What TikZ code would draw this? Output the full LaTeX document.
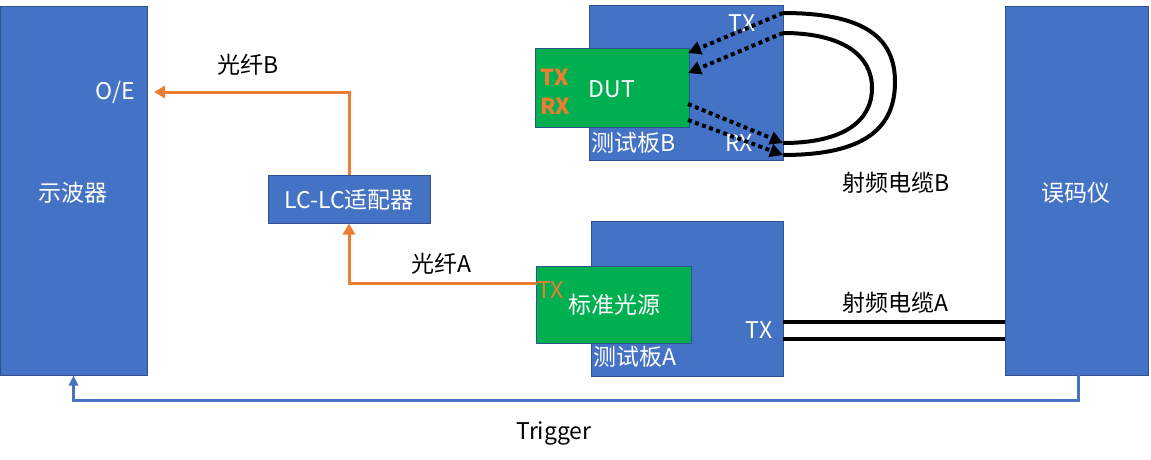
\documentclass[tikz,border=0pt]{standalone}
\usepackage{fontspec}
\setmainfont{Noto Sans CJK SC}
\usetikzlibrary{arrows.meta}
\definecolor{boxblue}{HTML}{4472C4}
\definecolor{boxedge}{HTML}{2F528F}
\definecolor{boxgreen}{HTML}{00B050}
\definecolor{fiber}{HTML}{ED7D31}
\tikzset{
  bluebox/.style={draw=boxedge,line width=1pt,fill=boxblue,inner sep=0pt,text=white},
  greenbox/.style={draw=boxedge,line width=1pt,fill=boxgreen,inner sep=0pt,text=white},
  lbl/.style={inner sep=0pt,font=\fontsize{23}{27}\selectfont},
  wlbl/.style={lbl,text=white},
  olbl/.style={lbl,text=fiber},
  fiberarrow/.style={draw=fiber,line width=3pt,-{Triangle[length=11pt,width=12pt]}},
  dotarrow/.style={draw=black,line width=4pt,dash pattern=on 4pt off 3.5pt,-{Triangle[length=13pt,width=13pt]},shorten >=0pt},
  cable/.style={draw=black,line width=4pt},
  trig/.style={draw=boxblue,line width=3pt,-{Triangle[length=10pt,width=9pt]}},
}
\begin{document}
\begin{tikzpicture}[x=1pt,y=-1pt]
\useasboundingbox (0,0) rectangle (1151,460);
% main boxes
\node[bluebox,minimum width=147pt,minimum height=368pt] (osc) at (73.5,191) {};
\node[bluebox,minimum width=143pt,minimum height=368pt] (ber) at (1076.5,191) {};
\node[bluebox,minimum width=162pt,minimum height=48pt] (adapter) at (349,199) {};
\node[bluebox,minimum width=194pt,minimum height=154pt] (boardB) at (686,83) {};
\node[greenbox,minimum width=154pt,minimum height=78pt] (dut) at (612,88) {};
\node[bluebox,minimum width=192pt,minimum height=155pt] (boardA) at (687,298.5) {};
\node[greenbox,minimum width=155pt,minimum height=77pt] (src) at (613.5,304.5) {};
% labels
\node[wlbl] (oscT) at (73,193) {示波器};
\node[wlbl,anchor=east] (oe) at (135,92) {O/E};
\node[wlbl] (berT) at (1076,193) {误码仪};
\node[wlbl] (adT) at (349,200) {LC-LC适配器};
\node[wlbl] (dutT) at (612,89) {DUT};
\node[olbl,font=\fontsize{22}{26}\selectfont\bfseries] (dtx) at (555,77) {TX};
\node[olbl,font=\fontsize{22}{26}\selectfont\bfseries] (drx) at (555,106) {RX};
\node[wlbl,anchor=west] (bB) at (591,143) {测试板B};
\node[wlbl] (btx) at (742,23) {TX};
\node[wlbl] (brx) at (739,143) {RX};
\node[wlbl] (srcT) at (614,305) {标准光源};
\node[olbl,anchor=west] (stx) at (537,290) {TX};
\node[wlbl,anchor=west] (bA) at (593,357) {测试板A};
\node[wlbl] (atx) at (759,330) {TX};
\node[lbl] (fB) at (248,65) {光纤B};
\node[lbl] (fA) at (441,264) {光纤A};
\node[lbl] (cB) at (896,183) {射频电缆B};
\node[lbl] (cA) at (895,303) {射频电缆A};
\node[lbl] (trT) at (554,433) {Trigger};
% fiber connections
\coordinate (oeIn) at (154,92);
\coordinate (srcOut) at (537,283);
\draw[fiberarrow] (adapter.north) |- (oeIn);
\draw[fiberarrow] (srcOut) -| (adapter.south);
% board B internal dotted
\coordinate (bT1) at (783,13);
\coordinate (bT2) at (783,33);
\coordinate (bR1) at (783,143);
\coordinate (bR2) at (783,155);
\coordinate (dI1) at (688,53);
\coordinate (dI2) at (688,73);
\coordinate (dO1) at (688,104);
\coordinate (dO2) at (688,120);
\draw[dotarrow] (bT1) -- (dI1);
\draw[dotarrow] (bT2) -- (dI2);
\draw[dotarrow] (dO1) -- (bR1);
\draw[dotarrow] (dO2) -- (bR2);
% cable B loop
\draw[cable] (bT1) .. controls (865,13) and (895,38) .. (895,82) .. controls (895,128) and (865,155) .. (bR2);
\draw[cable] (bT2) .. controls (842,33) and (872,55) .. (872,88) .. controls (872,122) and (842,143) .. (bR1);
% cable A
\coordinate (aT1) at (783,322);
\coordinate (aT2) at (783,339);
\coordinate (bI1) at (1005,322);
\coordinate (bI2) at (1005,339);
\draw[cable] (aT1) -- (bI1);
\draw[cable] (aT2) -- (bI2);
% trigger
\coordinate (t1) at (1078,375);
\draw[trig] (t1) -- ++(0,25) -| (osc.south);
\end{tikzpicture}
\end{document}
